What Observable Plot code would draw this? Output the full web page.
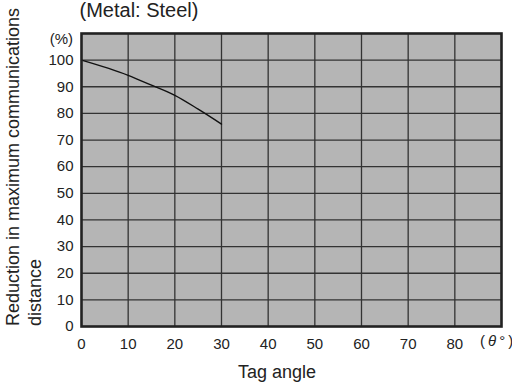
<!DOCTYPE html>
<html><head><meta charset="utf-8">
<script src="https://cdn.jsdelivr.net/npm/d3@7"></script>
<script src="https://cdn.jsdelivr.net/npm/@observablehq/plot@0.6"></script>
<style>
html,body{margin:0;padding:0;background:#fff;}
#wrap{position:relative;width:512px;height:388px;overflow:hidden;font-family:"Liberation Sans",Arial,sans-serif;color:#222;}
#wrap svg{position:absolute;left:0;top:0;}
.lbl{position:absolute;white-space:nowrap;line-height:1;}
</style></head>
<body><div id="wrap"></div>
<script>
const title = "(Metal: Steel)";
const yLabelLines = ["Reduction in maximum communications", "distance"];
const xLabel = "Tag angle";
const yUnit = "(%)";
const xUnitParts = ["(\u2009", "\u03B8", "\u2009\u00B0\u2009)"];
const angles = [0, 10, 15, 20, 25, 30];
const reduction = [100, 94.3, 90.6, 86.8, 81.6, 76];
const xTicks = [0, 10, 20, 30, 40, 50, 60, 70, 80];
const yTicks = [0, 10, 20, 30, 40, 50, 60, 70, 80, 90, 100];
const xGrid = [10, 20, 30, 40, 50, 60, 70, 80];
const yGrid = [10, 20, 30, 40, 50, 60, 70, 80, 90, 100];

const data = angles.map((a, i) => ({angle: a, value: reduction[i]}));

const chart = Plot.plot({
  width: 512, height: 388,
  marginLeft: 81, marginRight: 11, marginTop: 33, marginBottom: 62,
  style: {fontFamily: '"Liberation Sans", Arial, sans-serif', fontSize: "15px", color: "#222", background: "transparent"},
  x: {domain: [0, 90]},
  y: {domain: [0, 110]},
  marks: [
    Plot.frame({fill: "#b5b5b5", stroke: "none"}),
    Plot.ruleX(xGrid, {stroke: "#333", strokeWidth: 1.3}),
    Plot.ruleY(yGrid, {stroke: "#333", strokeWidth: 1.3}),
    Plot.line(data, {x: "angle", y: "value", stroke: "#111", strokeWidth: 1.4, curve: "monotone-x"}),
    Plot.frame({stroke: "#222", strokeWidth: 2.6}),
    Plot.axisX({ticks: xTicks, tickSize: 0, tickPadding: 12, label: null, fontSize: 15}),
    Plot.axisY({ticks: yTicks, tickSize: 0, tickPadding: 8, label: null, fontSize: 15})
  ]
});
const wrap = document.getElementById("wrap");
wrap.appendChild(chart);

function addLabel(text, css) {
  const d = document.createElement("div");
  d.className = "lbl";
  d.textContent = text;
  Object.assign(d.style, css);
  wrap.appendChild(d);
  return d;
}
addLabel(title, {left: "139px", top: "0px", fontSize: "20px", transform: "translateX(-50%)"});
addLabel(xLabel, {left: "277px", top: "363px", fontSize: "18px", transform: "translateX(-50%)"});
addLabel(yUnit, {right: (512 - 73) + "px", top: "31px", fontSize: "15px"});
const xu = addLabel("", {left: "480px", top: "333px", fontSize: "15px"});
xu.innerHTML = xUnitParts[0] + "<i>" + xUnitParts[1] + "</i>" + xUnitParts[2];
// rotated y label, two lines, anchored at bottom
const yl = document.createElement("div");
yl.className = "lbl";
yl.style.fontSize = "18px";
yl.style.lineHeight = "22px";
yl.style.transformOrigin = "0 0";
yl.style.transform = "rotate(-90deg)";
yl.style.left = "2px";
yl.style.top = "326px";
yl.innerHTML = yLabelLines.join("<br>");
wrap.appendChild(yl);
</script></body></html>
